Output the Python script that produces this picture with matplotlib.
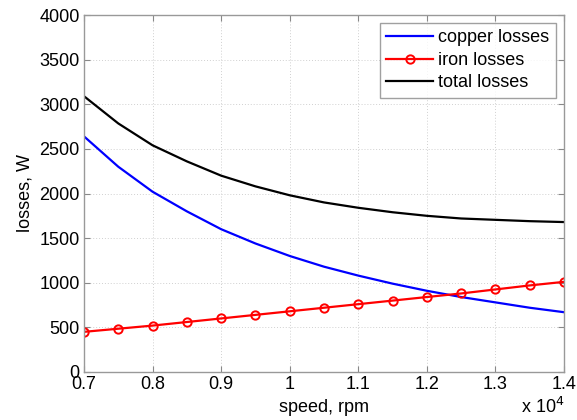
import matplotlib
matplotlib.use("Agg")
import matplotlib.pyplot as plt

speed = [0.70, 0.75, 0.80, 0.85, 0.90, 0.95, 1.00, 1.05, 1.10, 1.15, 1.20, 1.25, 1.30, 1.35, 1.40]
copper = [2640, 2300, 2020, 1800, 1600, 1440, 1300, 1180, 1080, 990, 910, 840, 780, 720, 670]
iron = [450, 485, 520, 560, 600, 640, 680, 720, 760, 800, 840, 880, 925, 970, 1010]
total = [3090, 2785, 2540, 2360, 2200, 2080, 1980, 1900, 1840, 1790, 1750, 1720, 1705, 1690, 1680]

xticks = [0.7, 0.8, 0.9, 1.0, 1.1, 1.2, 1.3, 1.4]
xticklabels = ["0.7", "0.8", "0.9", "1", "1.1", "1.2", "1.3", "1.4"]
yticks = [0, 500, 1000, 1500, 2000, 2500, 3000, 3500, 4000]

plt.rcParams['font.family'] = ['Liberation Sans', 'DejaVu Sans']
FS = 13

fig = plt.figure(figsize=(5.77, 4.20), dpi=100)
ax = fig.add_axes([84/577, 1-372/420, (564-84)/577, (372-15)/420])

ax.plot(speed, copper, color='#0000ff', lw=1.6, label='copper losses')
ax.plot(speed, iron, color='#ff0000', lw=1.6, marker='o', ms=6, mfc='none', mew=1.4, label='iron losses')
ax.plot(speed, total, color='#000000', lw=1.6, label='total losses')

ax.set_xlim(0.7, 1.4)
ax.set_ylim(0, 4000)
ax.set_xticks(xticks)
ax.set_xticklabels(xticklabels)
ax.set_yticks(yticks)
ax.tick_params(direction='in', top=True, right=True, length=4, color='#888888', labelsize=FS, pad=3)
for s in ax.spines.values():
    s.set_color('#999999')
    s.set_linewidth(1.0)
ax.grid(True, linestyle=(0, (1, 2)), color='#d0d0d0', lw=0.7)

ax.set_xlabel('speed, rpm', fontsize=FS, labelpad=4)
ax.set_ylabel('losses, W', fontsize=FS, labelpad=4)

ax.text(1.0, -0.07, r'x 10$^4$', transform=ax.transAxes, ha='right', va='top', fontsize=FS)

leg = ax.legend(loc='upper right', fontsize=FS, fancybox=False, edgecolor='#888888',
                borderaxespad=0.45, handlelength=2.6, handletextpad=0.3, labelspacing=0.3,
                borderpad=0.35)
leg.get_frame().set_linewidth(1.0)

fig.savefig('out.png', dpi=100)
